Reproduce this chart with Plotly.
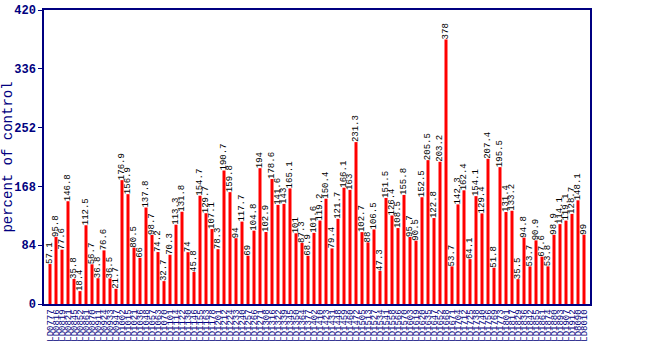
import plotly.graph_objects as go

values = [57.1, 95.8, 77.6, 146.8, 35.8, 18.4, 112.5, 56.7, 36.8, 76.6,
          36.5, 21.7, 176.9, 156.9, 80.5, 66, 137.8, 98.7, 74.2, 32.7,
          70.3, 113.3, 131.8, 74, 45.8, 154.7, 129.7, 107.1, 78.3, 190.7,
          159.8, 94, 117.7, 69, 104.8, 194, 102.9, 178.6, 141.6, 143,
          165.1, 101, 87.3, 68.9, 101.6, 119.2, 150.4, 79.4, 121.7, 166.1,
          163, 231.3, 102.7, 88, 106.5, 47.3, 151.5, 126.4, 108.5, 155.8,
          95.7, 90.5, 152.5, 205.5, 122.8, 203.2, 378, 53.7, 142.3, 162.4,
          64.1, 154.1, 129.4, 207.4, 51.8, 195.5, 131.4, 133.2, 35.5, 94.8,
          53.7, 90.9, 67.6, 53.8, 98.9, 114.1, 119.1, 128.7, 148.1, 99]

labels = ["LD0777", "LD0816", "LD0819", "LD0821", "LD0845", "LD0852", "LD0861", "LD0870", "LD0911", "LD0924",
          "LD0933", "LD0947", "LD1002", "LD1015", "LD1021", "LD1036", "LD1048", "LD1057", "LD1063", "LD1070",
          "LD1101", "LD1114", "LD1122", "LD1130", "LD1146", "LD1155", "LD1163", "LD1178", "LD1201", "LD1212",
          "LD1224", "LD1233", "LD1240", "LD1257", "LD1266", "LD1271", "LD1308", "LD1316", "LD1322", "LD1339",
          "LD1345", "LD1350", "LD1364", "LD1377", "LD1402", "LD1410", "LD1423", "LD1431", "LD1448", "LD1459",
          "LD1460", "LD1472", "LD1505", "LD1513", "LD1527", "LD1534", "LD1541", "LD1558", "LD1566", "LD1570",
          "LD1603", "LD1619", "LD1620", "LD1635", "LD1647", "LD1652", "LD1668", "LD1671", "LD1704", "LD1712",
          "LD1725", "LD1738", "LD1740", "LD1756", "LD1769", "LD1773", "LD1801", "LD1817", "LD1829", "LD1836",
          "LD1842", "LD1855", "LD1861", "LD1874", "LD1880", "LD1893", "LD1907", "LD1912", "LD8090", "LD8010"]

y_ticks = [0, 84, 168, 252, 336, 420]

navy = "#000080"
mono = "Liberation Mono, DejaVu Sans Mono, monospace"

fig = go.Figure(go.Bar(
    x=labels,
    y=values,
    width=0.5,
    marker=dict(color="#ff0000", line=dict(width=0)),
    text=[f"{v:g}" for v in values],
    textposition="outside",
    textangle=-90,
    textfont=dict(family=mono, size=9, color="black"),
    constraintext="none",
    cliponaxis=False,
))

fig.update_layout(
    width=650, height=350,
    margin=dict(l=44, r=60, t=10, b=46),
    paper_bgcolor="white",
    plot_bgcolor="white",
    showlegend=False,
    bargap=0.5,
)

fig.update_xaxes(
    type="category",
    range=[-1, len(values)],
    tickmode="linear", tick0=0, dtick=1,
    showline=True, linecolor=navy, linewidth=1.5, mirror=True,
    showgrid=False, ticks="",
    tickangle=-90,
    tickfont=dict(family=mono, size=9, color=navy),
    automargin=False,
)

fig.update_yaxes(
    range=[0, 420],
    tickvals=y_ticks,
    ticktext=[str(t) for t in y_ticks],
    showline=True, linecolor=navy, linewidth=1.5, mirror=True,
    showgrid=False, zeroline=False,
    ticks="outside", ticklen=4, tickcolor=navy,
    tickfont=dict(family=mono, size=12, color=navy, weight="bold"),
    title=dict(text="percent of control", font=dict(family=mono, size=14, color=navy), standoff=6),
    automargin=False,
)

fig.write_html("out.html")
